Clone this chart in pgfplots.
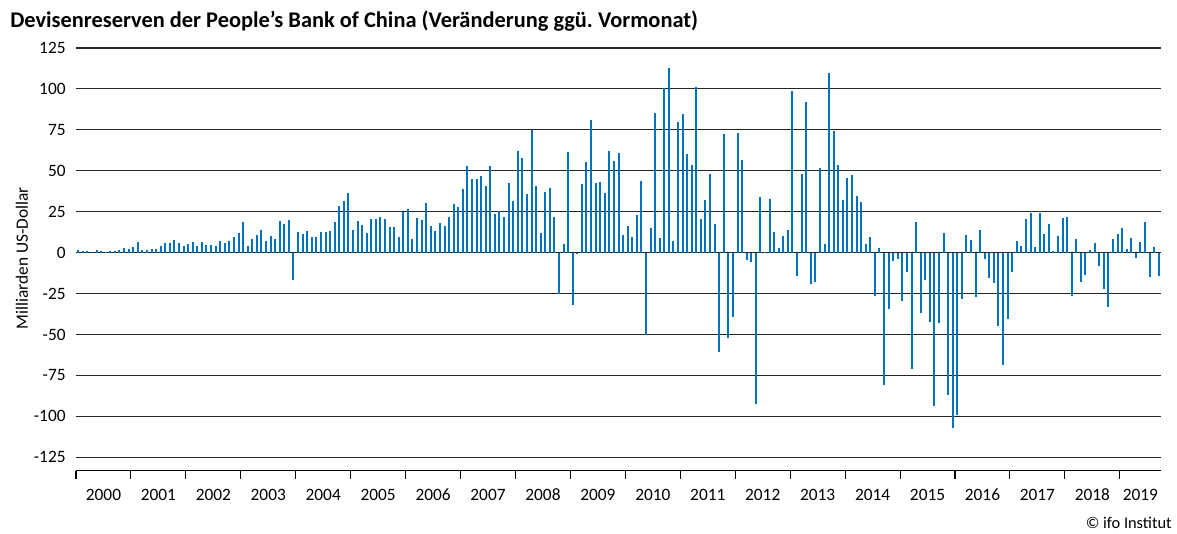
\documentclass[border=0pt]{standalone}
\usepackage{fontspec}
\setmainfont{Carlito}
\usepackage{pgfplots}
\pgfplotsset{compat=1.18}

\definecolor{ifoblue}{RGB}{0,114,192}

% Veraenderung ggue. Vormonat, Mrd. US-Dollar, Monat 0 = Jan 2000
\begin{document}
\frenchspacing
\begin{tikzpicture}
\begin{axis}[
    at={(57pt,47.5pt)}, anchor=south west,
    scale only axis,
    width=813.75pt, height=317pt,
    xmin=-0.5, xmax=236.5,
    ymin=-133.2, ymax=125,
    axis lines*=left,
    y axis line style={draw=none},
    x axis line style={black, line width=0.9pt},
    ytick={-125,-100,...,125},
    ytick style={draw=none},
    ymajorgrids,
    grid style={black!85, line width=0.8pt},
    xtick={5.5,17.5,29.5,41.5,53.5,65.5,77.5,89.5,101.5,113.5,125.5,137.5,149.5,161.5,173.5,185.5,197.5,209.5,221.5,232},
    xticklabels={2000,2001,2002,2003,2004,2005,2006,2007,2008,2009,2010,2011,2012,2013,2014,2015,2016,2017,2018,2019},
    major x tick style={draw=none},
    minor xtick={-0.5,11.5,...,227.5},
    minor x tick style={black, line width=0.8pt},
    minor tick length=6pt,
    tick align=outside,
    xticklabel style={yshift=-6pt},
    tick label style={font=\fontsize{13}{15}\selectfont},
    /pgf/number format/assume math mode=true,
    clip=false,
]
\addplot[ycomb, color=ifoblue, line width=1.5pt] coordinates {
(0,1.6) (1,0.8) (2,0.8) (3,0.3) (4,1.4) (5,0.8) (6,0.3) (7,0.8) (8,1.2) (9,1.4) (10,2.6) (11,2)
(12,3.2) (13,6.3) (14,1.4) (15,1.6) (16,2) (17,2) (18,3.9) (19,5.7) (20,6.1) (21,7.5) (22,5.7) (23,4.1)
(24,5.5) (25,6.3) (26,4.3) (27,6.5) (28,4.9) (29,4.5) (30,3.9) (31,6.9) (32,5.7) (33,7.1) (34,9.3) (35,12.2)
(36,18.5) (37,4.1) (38,8.1) (39,10.6) (40,14) (41,6.9) (42,10.2) (43,8.5) (44,19.3) (45,17.5) (46,19.7) (47,-16.7)
(48,12.8) (49,11.2) (50,13.4) (51,9.3) (52,9.8) (53,12.4) (54,12.6) (55,13.4) (56,18.5) (57,28.3) (58,31.7) (59,36.4)
(60,14) (61,19.1) (62,16.9) (63,11.8) (64,20.3) (65,20.3) (66,22) (67,20.7) (68,15.9) (69,15.9) (70,9.3) (71,25)
(72,26.4) (73,8.5) (74,21.3) (75,20.1) (76,30.3) (77,16.3) (78,13.5) (79,17.9) (80,16.1) (81,22) (82,29.5) (83,28)
(84,38.6) (85,53) (86,44.9) (87,44.9) (88,46.5) (89,40.4) (90,52.8) (91,23.8) (92,25.2) (93,21.5) (94,42.3) (95,31.7)
(96,61.8) (97,57.7) (98,35.6) (99,75.2) (100,40.7) (101,12.2) (102,36.8) (103,39.2) (104,21.7) (105,-25.4) (106,5.3) (107,61.6)
(108,-32.1) (109,-1) (110,42.1) (111,55.5) (112,81.1) (113,42.3) (114,43.3) (115,36.6) (116,62.1) (117,56) (118,60.9) (119,10.6)
(120,16.3) (121,9.6) (122,22.8) (123,43.7) (124,-50.4) (125,15) (126,85) (127,9.1) (128,100.4) (129,113) (130,7.3) (131,79.7)
(132,84.6) (133,60) (134,53.7) (135,101.4) (136,20.3) (137,31.9) (138,48.2) (139,17.7) (140,-60.6) (141,72.4) (142,-52.4) (143,-39.4)
(144,72.8) (145,56.3) (146,-4.5) (147,-5.7) (148,-92.7) (149,34.1) (150,0.5) (151,32.9) (152,12.6) (153,2.6) (154,10.4) (155,14)
(156,98.8) (157,-14.2) (158,47.8) (159,92.3) (160,-19.3) (161,-17.9) (162,51.4) (163,5.5) (164,110) (165,74.2) (166,53.3) (167,32.3)
(168,45.7) (169,47.4) (170,34.8) (171,31.1) (172,5.5) (173,9.6) (174,-26.6) (175,2.8) (176,-80.9) (177,-34.6) (178,-5.1) (179,-4.1)
(180,-29.3) (181,-11.6) (182,-71.1) (183,18.5) (184,-36.6) (185,-16.9) (186,-42.3) (187,-93.5) (188,-43.1) (189,11.8) (190,-87) (191,-107.3)
(192,-99.2) (193,-28.3) (194,10.6) (195,7.5) (196,-27.4) (197,13.6) (198,-3.9) (199,-15.4) (200,-18.5) (201,-45.1) (202,-68.7) (203,-40.7)
(204,-12) (205,7.3) (206,4.3) (207,20.7) (208,24.4) (209,3.3) (210,24.2) (211,11.2) (212,17.3) (213,1) (214,10.4) (215,20.9)
(216,21.7) (217,-26.6) (218,8.5) (219,-17.7) (220,-13.6) (221,1.6) (222,6.1) (223,-7.9) (224,-22.2) (225,-33.5) (226,8.5) (227,11.2)
(228,15.2) (229,2.4) (230,8.7) (231,-3.5) (232,6.3) (233,18.5) (234,-15) (235,3.7) (236,-14.2)
};
\end{axis}
% title, axis label, source
\node[anchor=base west, inner sep=0pt, font=\fontsize{16.8}{19}\selectfont\bfseries] at (7.5pt,380pt)
  {Devisenreserven der People’s Bank of China (Veränderung ggü. Vormonat)};
\node[rotate=90, inner sep=0pt, font=\fontsize{13}{15}\selectfont] at (16.5pt,207pt) {Milliarden US-Dollar};
\node[anchor=base east, inner sep=0pt, font=\fontsize{12.3}{14}\selectfont] at (879pt,4pt) {© ifo Institut};
\pgfresetboundingbox
\useasboundingbox (0,0) rectangle (882.75pt,400.5pt);
\end{tikzpicture}
\end{document}
